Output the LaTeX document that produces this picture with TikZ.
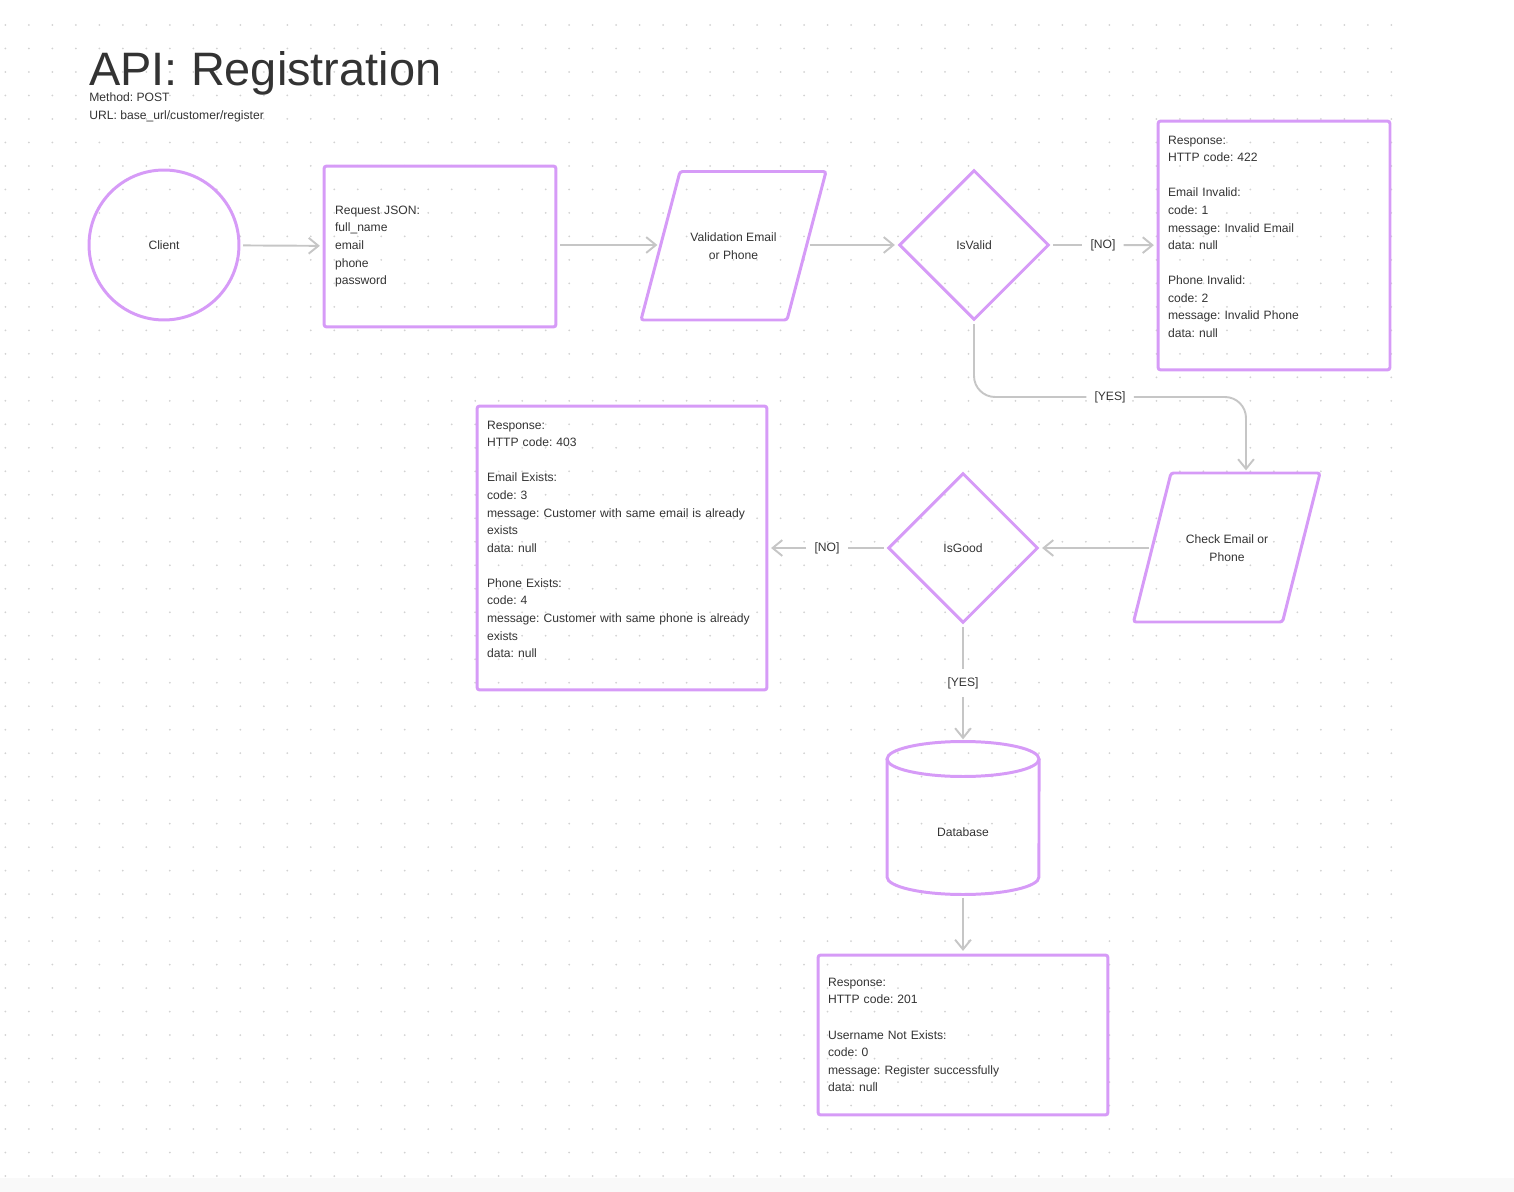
\documentclass[tikz,border=0pt]{standalone}
\usepackage{fontspec}
\setmainfont{Liberation Sans}
\usetikzlibrary{shapes.geometric,arrows.meta}

\definecolor{shapec}{HTML}{D69BF7}
\definecolor{linkc}{HTML}{C6C6C6}
\definecolor{inkc}{HTML}{333333}
\definecolor{dotc}{HTML}{D2D2D2}
\definecolor{stripc}{HTML}{F9F9F9}

\frenchspacing

\tikzset{
  txt/.style={text=inkc, inner sep=0pt, font=\fontsize{6.9}{10}\selectfont},
  outline/.style={draw=shapec, line width=1.7pt},
  box/.style={outline, txt, rounded corners=1.5pt, align=left, inner xsep=0.2cm},
  flag/.style={txt, inner xsep=3pt, inner ysep=3pt},
  link/.style={draw=linkc, line width=1.1pt, shorten >=1.5pt, shorten <=1.5pt},
  arr/.style={link, -{Straight Barb[length=5.5pt,width=9pt]}}
}

\begin{document}
\begin{tikzpicture}[x=0.02cm, y=-0.02cm]

    % Page size and dotted canvas
    \useasboundingbox (0,0) rectangle (1514,1192);
    \fill[stripc] (0,1178) rectangle (1514,1192);
    \foreach \i in {0,...,59}
        \foreach \j in {0,...,49}
            \fill[dotc] (5.4+23.49*\i, 25+23.49*\j) circle (0.02cm);

    % Heading
    \node[anchor=base west, inner sep=0pt, text depth=0pt, text=inkc, font=\fontsize{26.7}{30}\selectfont] (title) at (89,86) {API: Registration};
    \node[txt, anchor=base west] (method) at (89,101.5) {Method: POST};
    \node[txt, anchor=base west] (url) at (89,119.5) {URL: base\_url/customer/register};

    % Top row: client, request, validation, decision
    \node[outline, txt, circle, minimum size=3cm] (client) at (164,245) {Client};
    \node[box, text width=4.2cm, minimum height=3.22cm, inner xsep=0.22cm] (request) at (440,246.5)
        {Request JSON:\\full\_name\\email\\phone\\password};

    % Validation parallelogram, drawn by its corners
    \draw[outline, rounded corners=1.5pt] (680,171.5) -- (826,171.5) -- (787,320) -- (641,320) -- cycle;
    \node[txt, align=center] (validate) at (733.5,246) {Validation Email\\or Phone};
    \coordinate (validatein) at (660,245);
    \coordinate (validateout) at (807,245);

    \node[outline, txt, diamond, aspect=1, minimum width=3cm, minimum height=3cm] (isvalid) at (974,245) {IsValid};

    % Response for invalid input
    \node[box, text width=4.24cm, minimum height=4.98cm] (resp422) at (1274,245.5)
        {Response:\\HTTP code: 422\\[10pt]Email Invalid:\\code: 1\\message: Invalid Email\\data: null\\[10pt]
         Phone Invalid:\\code: 2\\message: Invalid Phone\\data: null\\ ~};

    % Check parallelogram, drawn by its corners
    \draw[outline, rounded corners=1.5pt] (1171,473) -- (1320,473) -- (1282.5,622) -- (1133.5,622) -- cycle;
    \node[txt, align=center] (check) at (1227,548) {Check Email or\\Phone};
    \coordinate (checkin) at (1246,473);
    \coordinate (checkout) at (1152,548);

    % Second row: decision and response for existing user
    \node[outline, txt, diamond, aspect=1, minimum width=3cm, minimum height=3cm] (isgood) at (963,548) {IsGood};
    \node[box, text width=5.4cm, minimum height=5.68cm] (resp403) at (622,548)
        {Response:\\HTTP code: 403\\[10pt]Email Exists:\\code: 3\\message: Customer with same email is already\\exists\\data: null\\[10pt]
         Phone Exists:\\code: 4\\message: Customer with same phone is already\\exists\\data: null\\ ~};

    % Database cylinder
    \draw[outline] (887,759) -- (887,877) arc[start angle=180, end angle=360, x radius=1.52cm, y radius=0.35cm] -- (1039,759);
    \draw[outline] (963,759) ellipse [x radius=1.52cm, y radius=0.35cm];
    \node[txt] (db) at (963,832) {Database};
    \coordinate (dbtop) at (963,742);
    \coordinate (dbbot) at (963,895);

    % Response for success
    \node[box, text width=5.4cm, minimum height=3.2cm] (resp201) at (963,1035)
        {Response:\\HTTP code: 201\\[10pt]Username Not Exists:\\code: 0\\message: Register successfully\\data: null};

    % Branch labels
    \node[flag] (no1) at (1103,245) {[NO]};
    \node[flag] (yes1) at (1110,397) {[YES]};
    \node[flag] (no2) at (827,548) {[NO]};
    \node[flag] (yes2) at (963,683) {[YES]};

    % Connectors
    \draw[arr] (client) -- (request);
    \draw[arr] (request.east |- validatein) -- (validatein);
    \draw[arr] (validateout) -- (isvalid);
    \draw[link] (isvalid) -- (no1);
    \draw[arr] (no1) -- (resp422);
    \draw[link, rounded corners=12] (isvalid.south) |- (yes1.west);
    \draw[arr, rounded corners=12] (yes1.east) -| (checkin);
    \draw[arr] (checkout) -- (isgood);
    \draw[link] (isgood) -- (no2);
    \draw[arr] (no2) -- (resp403);
    \draw[link] (isgood) -- (yes2);
    \draw[arr] (yes2) -- (dbtop);
    \draw[arr] (dbbot) -- (resp201);

\end{tikzpicture}
\end{document}
